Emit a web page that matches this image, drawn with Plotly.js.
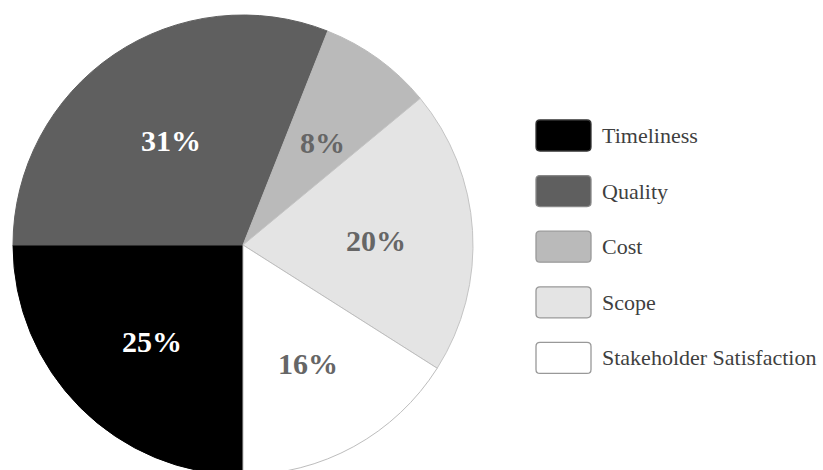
<!DOCTYPE html>
<html>
<head>
<meta charset="utf-8">
<script src="https://cdn.plot.ly/plotly-3.0.1.min.js"></script>
<style>
  html, body { margin: 0; padding: 0; overflow: hidden; background: #fff; }
  #chart { width: 823px; height: 480px; }
</style>
</head>
<body>
<div id="chart"></div>
<script>
// ---- data ----
const categories = ["Timeliness", "Quality", "Cost", "Scope", "Stakeholder Satisfaction"];
const shares = [25, 31, 8, 20, 16];
const sliceColors = ["#000000", "#5f5f5f", "#bababa", "#e4e4e4", "#ffffff"];
const lineColors = ["#000000", "#5f5f5f", "#bababa", "#c4c4c4", "#bdbdbd"];
const labelColors = ["#ffffff", "#ffffff", "#666666", "#666666", "#666666"];
const boxBorders = ["#333333", "#888888", "#999999", "#999999", "#999999"];

// ---- layout geometry ----
const W = 823, H = 480;
const M = { l: 13, r: 0, t: 15, b: 5 };
const pw = W - M.l - M.r, ph = H - M.t - M.b;
const px = x => (x - M.l) / pw;
const py = y => 1 - (y - M.t) / ph;
const SERIF = "Liberation Serif, Times New Roman, serif";

function roundRect(x0, y0, x1, y1, r) {
  const X = px, Y = py;
  return "M" + X(x0 + r) + "," + Y(y0) +
    " L" + X(x1 - r) + "," + Y(y0) +
    " Q" + X(x1) + "," + Y(y0) + " " + X(x1) + "," + Y(y0 + r) +
    " L" + X(x1) + "," + Y(y1 - r) +
    " Q" + X(x1) + "," + Y(y1) + " " + X(x1 - r) + "," + Y(y1) +
    " L" + X(x0 + r) + "," + Y(y1) +
    " Q" + X(x0) + "," + Y(y1) + " " + X(x0) + "," + Y(y1 - r) +
    " L" + X(x0) + "," + Y(y0 + r) +
    " Q" + X(x0) + "," + Y(y0) + " " + X(x0 + r) + "," + Y(y0) + " Z";
}

const shapes = [], annotations = [];
const legX0 = 536, legX1 = 591, legTop = 120, legStep = 55.6, boxH = 31;
categories.forEach((c, i) => {
  const y0 = legTop + i * legStep;
  shapes.push({
    type: "path", xref: "paper", yref: "paper",
    path: roundRect(legX0, y0, legX1, y0 + boxH, 4),
    fillcolor: sliceColors[i],
    line: { color: boxBorders[i], width: 1.3 }
  });
  annotations.push({
    xref: "paper", yref: "paper",
    x: px(600), y: py(y0 + boxH / 2),
    xanchor: "left", yanchor: "middle",
    text: c, showarrow: false,
    font: { family: SERIF, size: 22, color: "#3f3f3f" }
  });
});

// pie domain
const domX = [0, 460 / pw];
const R = 230;                         // pixel radius of the pie (min side of domain / 2)
const cxPix = M.l + (domX[0] + domX[1]) / 2 * pw;
const cyPix = M.t + ph / 2;

// percentage labels placed at mid-angle of each slice (clockwise from 6 o'clock)
const total = shares.reduce((a, b) => a + b, 0);
let cum = 0;
shares.forEach((v, i) => {
  const mid = 180 + (cum + v / 2) / total * 360;   // degrees clockwise from 12 o'clock
  cum += v;
  const a = mid * Math.PI / 180;
  const rr = 0.57 * R;
  annotations.push({
    xref: "paper", yref: "paper",
    x: px(cxPix + rr * Math.sin(a)), y: py(cyPix - rr * Math.cos(a)),
    xanchor: "center", yanchor: "middle",
    xshift: 2, yshift: -4,
    text: "<b>" + Math.round(v / total * 100) + "%</b>",
    showarrow: false,
    font: { family: SERIF, size: 30, color: labelColors[i] }
  });
});

const trace = {
  type: "pie",
  labels: categories,
  values: shares,
  sort: false,
  direction: "clockwise",
  rotation: 180,
  marker: { colors: sliceColors, line: { color: lineColors, width: 1 } },
  textinfo: "none",
  hoverinfo: "none",
  domain: { x: domX, y: [0, 1] }
};

Plotly.newPlot("chart", [trace], {
  width: W, height: H,
  margin: M,
  showlegend: false,
  paper_bgcolor: "#ffffff",
  plot_bgcolor: "#ffffff",
  shapes: shapes,
  annotations: annotations
}, { displayModeBar: false, staticPlot: true });
</script>
</body>
</html>
